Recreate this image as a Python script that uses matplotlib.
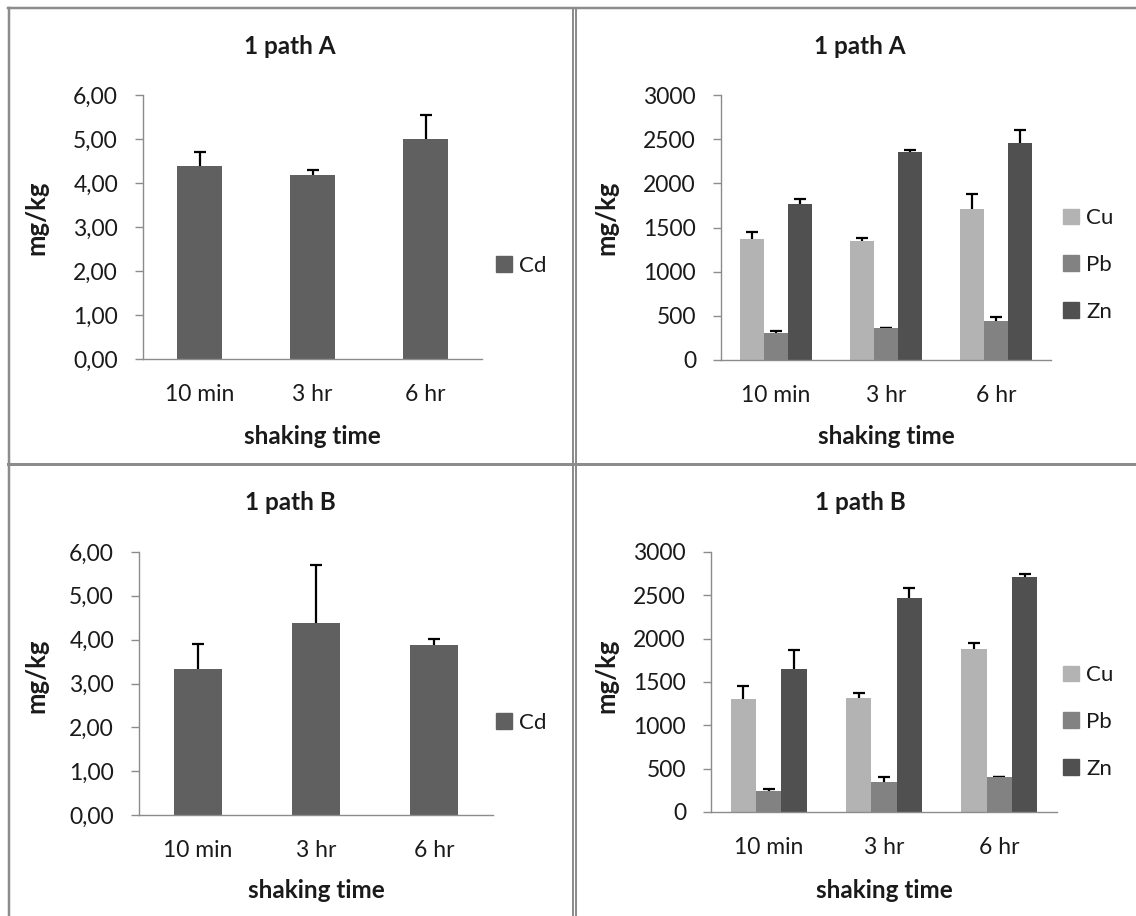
import matplotlib
matplotlib.use("Agg")
import matplotlib.pyplot as plt
from matplotlib.lines import Line2D
from matplotlib.patches import Patch
from matplotlib.ticker import FuncFormatter, MultipleLocator
import numpy as np

plt.rcParams['font.family'] = ['Lato', 'DejaVu Sans']

categories = ["10 min", "3 hr", "6 hr"]
metals = ["Cu", "Pb", "Zn"]

# Cd, path A and B
cd_a = [4.38, 4.18, 4.99]
cd_a_err = [0.33, 0.12, 0.56]
cd_b = [3.34, 4.39, 3.87]
cd_b_err = [0.55, 1.32, 0.15]

# Cu, Pb, Zn path A
cu_a = [1365, 1350, 1711]
cu_a_err = [79, 33, 173]
pb_a = [305, 361, 436]
pb_a_err = [18, 0, 49]
zn_a = [1771, 2350, 2451]
zn_a_err = [49, 22, 154]

# Cu, Pb, Zn path B
cu_b = [1306, 1321, 1882]
cu_b_err = [150, 50, 65]
pb_b = [238, 342, 399]
pb_b_err = [23, 65, 0]
zn_b = [1655, 2473, 2711]
zn_b_err = [215, 108, 31]

W, H = 1136, 916
fig = plt.figure(figsize=(W / 100, H / 100), dpi=100)

CD_COLOR = "#606060"
METAL_COLORS = ["#b3b3b3", "#828282", "#505050"]
SPINE = "#8c8c8c"
TXT = "#1a1a1a"
FS = 16.5       # tick labels
FS_LEG = 16     # legend
FS_B = 17.5     # bold titles / axis labels


def px_axes(x0, x1, ytop, ybot):
    return fig.add_axes([x0 / W, 1 - ybot / H, (x1 - x0) / W, (ybot - ytop) / H])


def style(ax, ymax, step, fmt):
    for s in ["top", "right"]:
        ax.spines[s].set_visible(False)
    for s in ["left", "bottom"]:
        ax.spines[s].set_color(SPINE)
        ax.spines[s].set_linewidth(1.0)
    ax.set_ylim(0, ymax)
    ax.set_xlim(-0.5, 2.5)
    ax.yaxis.set_major_locator(MultipleLocator(step))
    ax.yaxis.set_major_formatter(FuncFormatter(fmt))
    ax.tick_params(axis="y", length=6, width=1.0, color=SPINE, labelsize=FS,
                   labelcolor=TXT, pad=12)
    ax.tick_params(axis="x", length=0, labelsize=FS, labelcolor=TXT, pad=18)
    ax.set_xticks(range(len(categories)))
    ax.set_xticklabels(categories)


comma_fmt = lambda v, p: f"{v:.2f}".replace(".", ",")
int_fmt = lambda v, p: f"{int(round(v))}"

x = np.arange(len(categories))


def texts(title, tpos, xlpos, ylpos):
    fig.text(tpos[0] / W, 1 - tpos[1] / H, title, ha="center", va="center",
             fontsize=FS_B, fontweight="bold", color=TXT)
    fig.text(xlpos[0] / W, 1 - xlpos[1] / H, "shaking time", ha="center",
             va="center", fontsize=FS_B, fontweight="bold", color=TXT)
    fig.text(ylpos[0] / W, 1 - ylpos[1] / H, "mg/kg", ha="center", va="center",
             rotation=90, fontsize=FS_B + 1, fontweight="bold", color=TXT)


def legend(handles, lgpos):
    fig.legend(handles=handles, loc="center left",
               bbox_to_anchor=(lgpos[0] / W, 1 - lgpos[1] / H), frameon=False,
               fontsize=FS_LEG, handlelength=0.72, handleheight=0.72,
               handletextpad=0.32, labelspacing=1.2, borderpad=0,
               borderaxespad=0, labelcolor=TXT)


def err(ax, pos, vals, e):
    # drawn beneath the bars so only the upper (plus) part shows
    ax.errorbar(pos, vals, yerr=e, fmt="none", ecolor="black",
                elinewidth=1.6, capsize=4.6, capthick=1.6, zorder=1)


# Cd panels
cd_specs = [
    ((143, 482, 95, 359), cd_a, cd_a_err, "1 path A", (290, 47), (312, 437), (36, 218), (496, 266)),
    ((139, 493, 552, 815), cd_b, cd_b_err, "1 path B", (290, 503), (316, 890), (36, 676), (496, 723)),
]
for (box, vals, errs, title, tpos, xlpos, ylpos, lgpos) in cd_specs:
    ax = px_axes(*box)
    style(ax, 6, 1, comma_fmt)
    ax.bar(x, vals, width=0.4, color=CD_COLOR, zorder=2)
    err(ax, x, vals, errs)
    legend([Patch(color=CD_COLOR, label="Cd")], lgpos)
    texts(title, tpos, xlpos, ylpos)

# metal panels
m_specs = [
    ((721, 1051, 95, 360), [cu_a, pb_a, zn_a], [cu_a_err, pb_a_err, zn_a_err],
     "1 path A", (860, 47), (886, 437), (606, 218), (1063, 265)),
    ((711, 1057, 552, 812), [cu_b, pb_b, zn_b], [cu_b_err, pb_b_err, zn_b_err],
     "1 path B", (860, 503), (884, 890), (606, 676), (1063, 722)),
]
bw = 0.22
for (box, series, errs, title, tpos, xlpos, ylpos, lgpos) in m_specs:
    ax = px_axes(*box)
    style(ax, 3000, 500, int_fmt)
    handles = []
    for i, (vals, e) in enumerate(zip(series, errs)):
        pos = x + (i - 1) * bw
        ax.bar(pos, vals, width=bw, color=METAL_COLORS[i], zorder=2)
        err(ax, pos, vals, e)
        handles.append(Patch(color=METAL_COLORS[i], label=metals[i]))
    legend(handles, lgpos)
    texts(title, tpos, xlpos, ylpos)


# panel frames
def hline(y, x0, x1, lw_px):
    fig.add_artist(Line2D([x0 / W, x1 / W], [1 - y / H, 1 - y / H],
                          color=SPINE, lw=lw_px * 0.72))


def vline(xp, y0, y1, lw_px):
    fig.add_artist(Line2D([xp / W, xp / W], [1 - y0 / H, 1 - y1 / H],
                          color=SPINE, lw=lw_px * 0.72))


hline(8, 8, W, 2.5)
vline(9, 8, H, 2.5)
vline(573, 8, H, 2)
vline(576, 8, H, 2)
hline(464, 8, W, 3)

fig.savefig("out.png", dpi=100)
